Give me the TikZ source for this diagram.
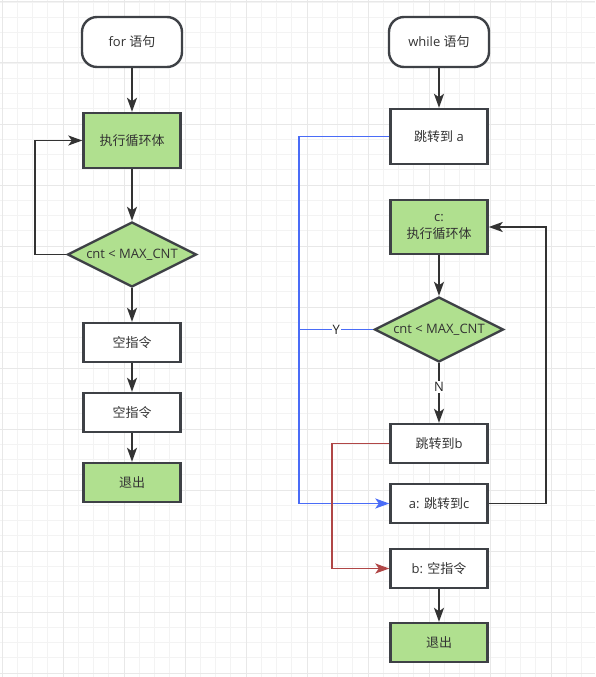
\documentclass[tikz,border=0pt]{standalone}
\usepackage{fontspec}
\setmainfont{Open Sans}
\newfontfamily\zh{Noto Sans CJK SC}
\usepackage{tikz}
\usetikzlibrary{arrows.meta}
\usetikzlibrary{shapes.geometric}
\usetikzlibrary{positioning}
\definecolor{boxgreen}{HTML}{B0E08F}
\definecolor{boxline}{HTML}{3E4146}
\definecolor{flowline}{HTML}{333333}
\definecolor{jmpblue}{HTML}{4A6CF7}
\definecolor{jmpred}{HTML}{B04646}
\definecolor{gridmin}{HTML}{F3F3F3}
\definecolor{gridmaj}{HTML}{E8E8E8}
\tikzset{procbox/.style={draw=boxline,line width=2.4pt,fill=white,minimum width=97pt,minimum height=39pt,inner sep=0pt,text=flowline,font=\fontsize{13}{17}\selectfont}}

\begin{document}
\begin{tikzpicture}[x=1pt,y=-1pt]
\tikzstyle{startbox} = [procbox, rounded corners=15pt, minimum width=100pt, minimum height=50pt]
\tikzstyle{cond} = [procbox, diamond, fill=boxgreen, minimum width=129pt, minimum height=65pt]
\tikzstyle{flow} = [color=flowline, line width=1.8pt, -{Stealth[length=14pt,width=10pt,inset=3.5pt]}]
\tikzstyle{lab} = [fill=white, inner sep=1pt, text=black!85, font=\fontsize{13}{17}\selectfont]
\useasboundingbox (0,0) rectangle (595,677);
\fill[white] (0,0) rectangle (595,677);

% grid
\foreach \i in {0,...,39} \draw[gridmin, line width=0.8pt] ({2+15.25*\i},0) -- ({2+15.25*\i},677);
\foreach \i in {0,...,44} \draw[gridmin, line width=0.8pt] (0,{2+15.25*\i}) -- (595,{2+15.25*\i});
\foreach \i in {0,...,9} \draw[gridmaj, line width=1pt] ({2+61*\i},0) -- ({2+61*\i},677);
\foreach \i in {0,...,11} \draw[gridmaj, line width=1pt] (0,{2+61*\i}) -- (595,{2+61*\i});

% for
\node[startbox] (fstart) at (132,42) {for {\zh 语句}};
\node[procbox, fill=boxgreen, minimum height=55pt] (fbody) at (132,140.5) {\zh 执行循环体};
\node[cond] (fcond) at (132,254.5) {\makebox[0pt]{cnt < MAX\_CNT}};
\node[procbox] (fnop1) at (132,342.5) {\zh 空指令};
\node[procbox] (fnop2) at (132,412.5) {\zh 空指令};
\node[procbox, fill=boxgreen] (fexit) at (132,482.5) {\zh 退出};

\draw[flow] (fstart) -- (fbody);
\draw[flow] (fbody) -- (fcond);
\draw[flow] (fcond.west) -- ++(-31,0) |- (fbody.west);
\draw[flow] (fcond) -- (fnop1);
\draw[flow] (fnop1) -- (fnop2);
\draw[flow] (fnop2) -- (fexit);

% while
\node[startbox] (wstart) at (439,42) {while {\zh 语句}};
\node[procbox, minimum height=55pt] (wjmpa) at (439,136.5) {{\zh 跳转到} a};
\node[procbox, fill=boxgreen, minimum height=54pt, align=center] (wbody) at (439,227) {c:\\{\zh 执行循环体}};
\node[cond] (wcond) at (439,329.5) {\makebox[0pt]{cnt < MAX\_CNT}};
\node[procbox] (wjmpb) at (439,443.5) {{\zh 跳转到}b};
\node[procbox] (wjmpc) at (439,503.5) {a: {\zh 跳转到}c};
\node[procbox] (wnopb) at (439,568.5) {b: {\zh 空指令}};
\node[procbox, fill=boxgreen] (wexit) at (439,642.5) {\zh 退出};
\coordinate (ybus) at (299,329.5);

\draw[flow] (wstart) -- (wjmpa);
\draw[flow, color=jmpblue] (wjmpa.west) -| (ybus) |- (wjmpc.west);
\draw[color=jmpblue, line width=1.8pt] (wcond.west) -- node[lab]{Y} (ybus);
\draw[flow] (wbody) -- (wcond);
\draw[flow] (wcond) -- node[lab, pos=0.4]{N} (wjmpb);
\draw[flow, color=jmpred] (wjmpb.west) -- ++(-57,0) |- (wnopb.west);
\draw[flow] (wjmpc.east) -- ++(57,0) |- (wbody.east);
\draw[flow] (wnopb) -- (wexit);

\end{tikzpicture}
\end{document}
